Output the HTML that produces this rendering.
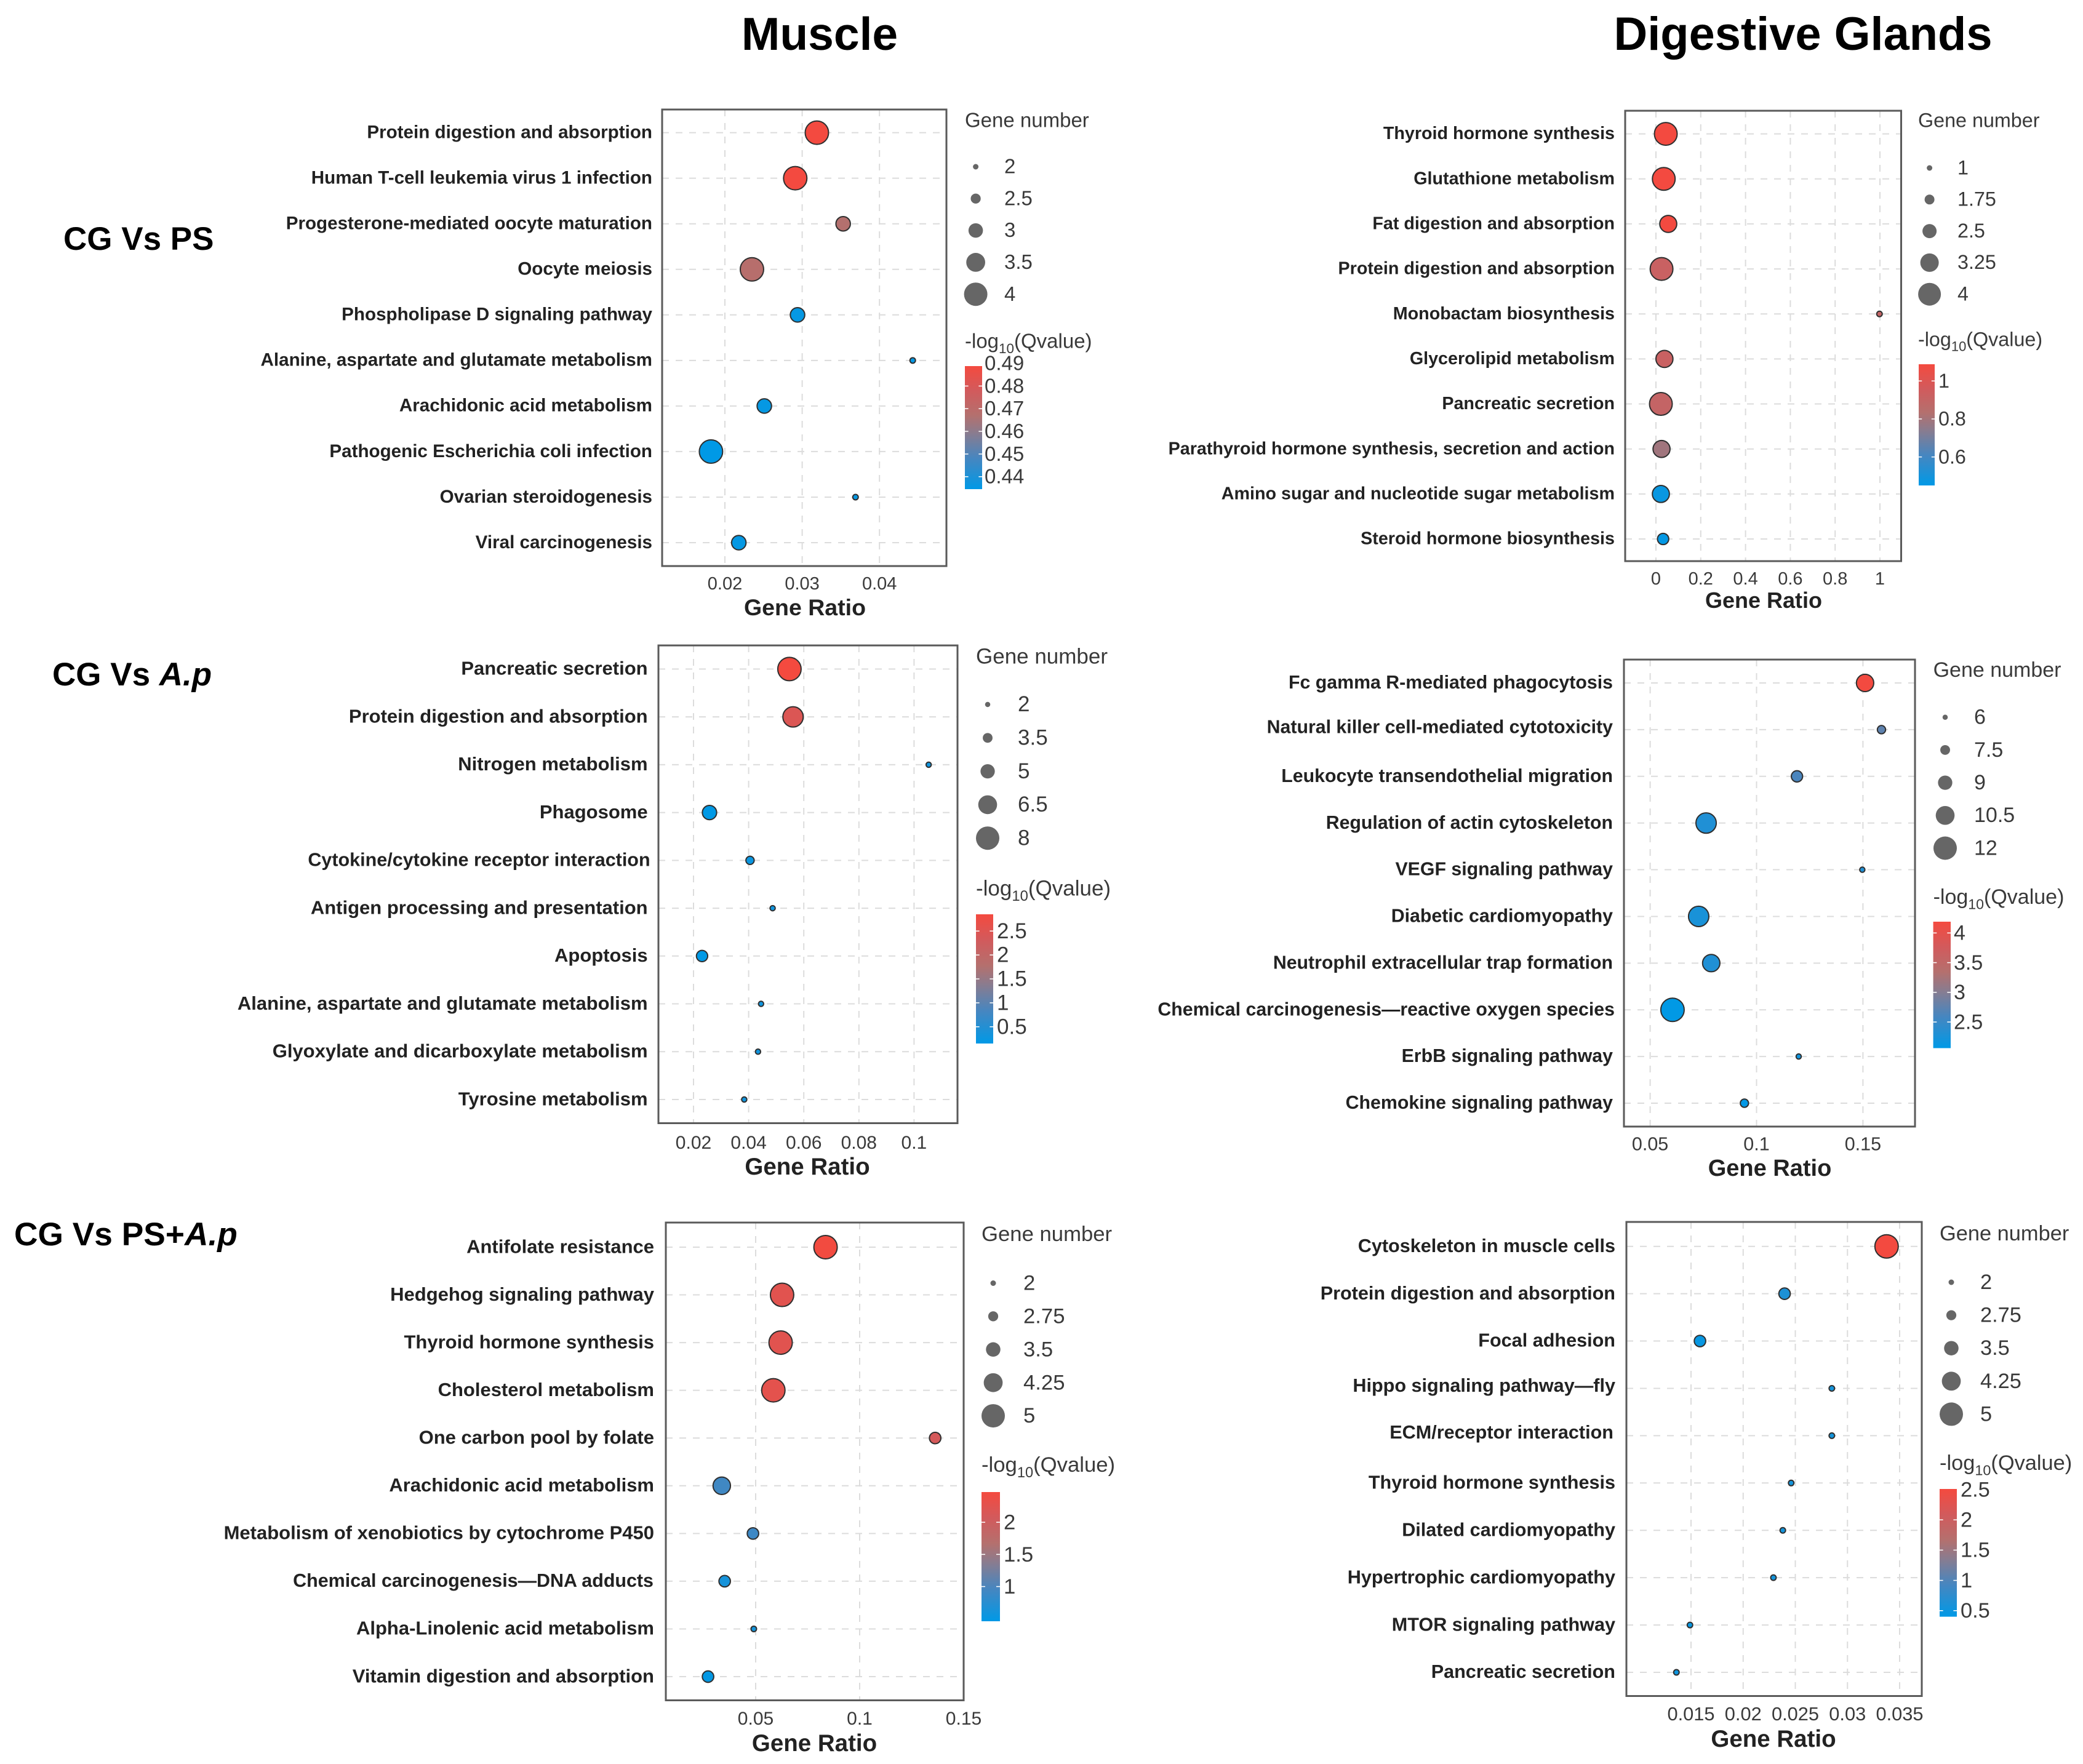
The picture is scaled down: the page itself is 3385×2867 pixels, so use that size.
<!DOCTYPE html>
<html lang="en">
<head>
<meta charset="utf-8">
<title>KEGG enrichment bubble charts: Muscle and Digestive Glands</title>
<style>
html,body{margin:0;padding:0;background:#fff;}
svg{display:block;font-family:"Liberation Sans",Arial,sans-serif;}
</style>
</head>
<body>
<svg id="figure" xmlns="http://www.w3.org/2000/svg" width="3385" height="2867" viewBox="0 0 3385 2867">
  <defs>
    <linearGradient id="q-gradient" x1="0" y1="1" x2="0" y2="0">
      <stop offset="0" stop-color="#0099e6"/>
      <stop offset="0.25" stop-color="#4686c0"/>
      <stop offset="0.45" stop-color="#887c90"/>
      <stop offset="0.6" stop-color="#b4706e"/>
      <stop offset="0.8" stop-color="#d25a5c"/>
      <stop offset="1" stop-color="#f44a3f"/>
    </linearGradient>
  </defs>
  <rect x="0" y="0" width="3385" height="2867" fill="#ffffff"/>
  <text x="1332" y="81" font-size="75" font-weight="700" text-anchor="middle" fill="#000">Muscle</text>
  <text x="2930" y="81" font-size="75.8" font-weight="700" text-anchor="middle" fill="#000">Digestive Glands</text>
  <text x="103" y="406" font-size="53" font-weight="700" fill="#000">CG Vs PS</text>
  <text x="85" y="1114" font-size="53" font-weight="700" fill="#000">CG Vs <tspan font-style="italic">A.p</tspan></text>
  <text x="23" y="2024" font-size="53.3" font-weight="700" fill="#000">CG Vs PS+<tspan font-style="italic">A.p</tspan></text>
</svg>
<script>
/* ---------- Muscle, CG Vs PS ---------- */
const musclePsPathways = ["Protein digestion and absorption","Human T-cell leukemia virus 1 infection","Progesterone-mediated oocyte maturation","Oocyte meiosis","Phospholipase D signaling pathway","Alanine, aspartate and glutamate metabolism","Arachidonic acid metabolism","Pathogenic Escherichia coli infection","Ovarian steroidogenesis","Viral carcinogenesis"];
const musclePsRatio = [0.0319,0.0291,0.0353,0.0235,0.0294,0.0443,0.0251,0.0182,0.0369,0.0218];
const musclePsGenes = [4,4,3,4,3,2,3,4,2,3];
const musclePsQ = [0.4885,0.4885,0.467,0.468,0.4355,0.4355,0.4355,0.4345,0.4355,0.4355];
const musclePsXTicks = [0.02,0.03,0.04];
const musclePsSizeTicks = [2,2.5,3,3.5,4];
const musclePsColorTicks = [0.49,0.48,0.47,0.46,0.45,0.44];
const musclePsQRange = [0.4345,0.4888];

/* ---------- Digestive Glands, CG Vs PS ---------- */
const glandsPsPathways = ["Thyroid hormone synthesis","Glutathione metabolism","Fat digestion and absorption","Protein digestion and absorption","Monobactam biosynthesis","Glycerolipid metabolism","Pancreatic secretion","Parathyroid hormone synthesis, secretion and action","Amino sugar and nucleotide sugar metabolism","Steroid hormone biosynthesis"];
const glandsPsRatio = [0.044,0.035,0.055,0.025,0.998,0.038,0.022,0.025,0.022,0.032];
const glandsPsGenes = [4,4,3,4,1,3,4,3,3,2];
const glandsPsQ = [1.085,1.085,1.085,0.92,0.9,0.92,0.9,0.79,0.47,0.46];
const glandsPsXTicks = [0,0.2,0.4,0.6,0.8,1];
const glandsPsSizeTicks = [1,1.75,2.5,3.25,4];
const glandsPsColorTicks = [1,0.8,0.6];
const glandsPsQRange = [0.45,1.088];

/* ---------- Muscle, CG Vs A.p ---------- */
const muscleApPathways = ["Pancreatic secretion","Protein digestion and absorption","Nitrogen metabolism","Phagosome","Cytokine/cytokine receptor interaction","Antigen processing and presentation","Apoptosis","Alanine, aspartate and glutamate metabolism","Glyoxylate and dicarboxylate metabolism","Tyrosine metabolism"];
const muscleApRatio = [0.0548,0.0561,0.1053,0.0258,0.0405,0.0487,0.0231,0.0445,0.0434,0.0384];
const muscleApGenes = [8,7,2,5,3,2,4,2,2,2];
const muscleApQ = [2.85,2.45,0.3,0.16,0.25,0.3,0.16,0.3,0.3,0.3];
const muscleApXTicks = [0.02,0.04,0.06,0.08,0.1];
const muscleApSizeTicks = [2,3.5,5,6.5,8];
const muscleApColorTicks = [2.5,2,1.5,1,0.5];
const muscleApQRange = [0.15,2.85];

/* ---------- Digestive Glands, CG Vs A.p ---------- */
const glandsApPathways = ["Fc gamma R-mediated phagocytosis","Natural killer cell-mediated cytotoxicity","Leukocyte transendothelial migration","Regulation of actin cytoskeleton","VEGF signaling pathway","Diabetic cardiomyopathy","Neutrophil extracellular trap formation","Chemical carcinogenesis\u2014reactive oxygen species","ErbB signaling pathway","Chemokine signaling pathway"];
const glandsApRatio = [0.151,0.1587,0.119,0.0763,0.1497,0.0728,0.0787,0.0605,0.1198,0.0943];
const glandsApGenes = [10,7,8,11,6,11,10,12,6,7];
const glandsApQ = [4.18,2.75,2.62,2.3,2.3,2.25,2.3,2.07,2.2,2.08];
const glandsApXTicks = [0.05,0.1,0.15];
const glandsApSizeTicks = [6,7.5,9,10.5,12];
const glandsApColorTicks = [4,3.5,3,2.5];
const glandsApQRange = [2.06,4.19];

/* ---------- Muscle, CG Vs PS+A.p ---------- */
const musclePsApPathways = ["Antifolate resistance","Hedgehog signaling pathway","Thyroid hormone synthesis","Cholesterol metabolism","One carbon pool by folate","Arachidonic acid metabolism","Metabolism of xenobiotics by cytochrome P450","Chemical carcinogenesis\u2014DNA adducts","Alpha-Linolenic acid metabolism","Vitamin digestion and absorption"];
const musclePsApRatio = [0.0836,0.0627,0.062,0.0585,0.1363,0.0337,0.0487,0.0351,0.0491,0.0271];
const musclePsApGenes = [5,5,5,5,3,4,3,3,2,3];
const musclePsApQ = [2.45,2.25,2.25,2.28,2.1,0.92,0.9,0.62,0.6,0.48];
const musclePsApXTicks = [0.05,0.1,0.15];
const musclePsApSizeTicks = [2,2.75,3.5,4.25,5];
const musclePsApColorTicks = [2,1.5,1];
const musclePsApQRange = [0.46,2.47];

/* ---------- Digestive Glands, CG Vs PS+A.p ---------- */
const glandsPsApPathways = ["Cytoskeleton in muscle cells","Protein digestion and absorption","Focal adhesion","Hippo signaling pathway\u2014fly","ECM/receptor interaction","Thyroid hormone synthesis","Dilated cardiomyopathy","Hypertrophic cardiomyopathy","MTOR signaling pathway","Pancreatic secretion"];
const glandsPsApRatio = [0.03375,0.02397,0.01586,0.0285,0.0285,0.0246,0.0238,0.0229,0.0149,0.0136];
const glandsPsApGenes = [5,3,3,2,2,2,2,2,2,2];
const glandsPsApQ = [2.5,0.62,0.45,0.55,0.55,0.55,0.55,0.55,0.45,0.5];
const glandsPsApXTicks = [0.015,0.02,0.025,0.03,0.035];
const glandsPsApSizeTicks = [2,2.75,3.5,4.25,5];
const glandsPsApColorTicks = [2.5,2,1.5,1,0.5];
const glandsPsApQRange = [0.4,2.51];

/* ---------- Colour ramp used by marks ---------- */
const rampOffsets = [0,0.25,0.45,0.6,0.8,1];
const rampColors = [[0,153,230],[70,134,192],[136,124,144],[180,112,110],[210,90,92],[244,74,63]];

const SVGNS = "http://www.w3.org/2000/svg";
const figure = document.getElementById("figure");

/* Frame geometry per panel lives here, apart from the data arrays. */
const panelSpecs = [
 {key:"muscle-ps",pathways:musclePsPathways,ratio:musclePsRatio,genes:musclePsGenes,q:musclePsQ,xTicks:musclePsXTicks,sizeTicks:musclePsSizeTicks,colorTicks:musclePsColorTicks,qRange:musclePsQRange,
  left:1076,right:1538,top:178,bottom:920,firstY:215.6,lastY:882,xAt:[0.02,1178],xPerUnit:12560,
  labelX:1060,labelFont:29.6,tickFont:29,tickBase:958,titleX:1308,titleBase:1000,titleFont:37.5,
  legX:1568,legFont:33,legTitleY:195,sizeY:271,sizeStep:51.8,sizeCx:1585.6,sizeLabelX:1632,dMin:9,dMax:38,
  qTitleY:554,barLeft:1568,barRight:1596,barTop:595,barBottom:795,barLabelX:1600,nudge:{},shiftY:{},squeeze:{}},
 {key:"glands-ps",pathways:glandsPsPathways,ratio:glandsPsRatio,genes:glandsPsGenes,q:glandsPsQ,xTicks:glandsPsXTicks,sizeTicks:glandsPsSizeTicks,colorTicks:glandsPsColorTicks,qRange:glandsPsQRange,
  left:2641,right:3089.5,top:180,bottom:912,firstY:217.6,lastY:876,xAt:[0,2691],xPerUnit:364,
  labelX:2624,labelFont:28.7,tickFont:29,tickBase:950,titleX:2866,titleBase:988,titleFont:36,
  legX:3117,legFont:32.3,legTitleY:195,sizeY:273,sizeStep:51.3,sizeCx:3135.6,sizeLabelX:3181,dMin:9,dMax:37,
  qTitleY:551,barLeft:3118,barRight:3144,barTop:592,barBottom:789,barLabelX:3150,nudge:{},shiftY:{},squeeze:{}},
 {key:"muscle-ap",pathways:muscleApPathways,ratio:muscleApRatio,genes:muscleApGenes,q:muscleApQ,xTicks:muscleApXTicks,sizeTicks:muscleApSizeTicks,colorTicks:muscleApColorTicks,qRange:muscleApQRange,
  left:1070,right:1556,top:1049,bottom:1825.5,firstY:1087.4,lastY:1787,xAt:[0.02,1127],xPerUnit:4480,
  labelX:1052.6,labelFont:31,tickFont:30,tickBase:1867,titleX:1312,titleBase:1909,titleFont:38.5,
  legX:1586,legFont:35,legTitleY:1066,sizeY:1145,sizeStep:54.3,sizeCx:1605,sizeLabelX:1654,dMin:8.5,dMax:38,
  qTitleY:1443,barLeft:1586,barRight:1614,barTop:1486,barBottom:1696,barLabelX:1620,nudge:{4:4},shiftY:{},squeeze:{4:0.985}},
 {key:"glands-ap",pathways:glandsApPathways,ratio:glandsApRatio,genes:glandsApGenes,q:glandsApQ,xTicks:glandsApXTicks,sizeTicks:glandsApSizeTicks,colorTicks:glandsApColorTicks,qRange:glandsApQRange,
  left:2639,right:3112,top:1072,bottom:1831,firstY:1110,lastY:1793,xAt:[0.05,2681.6],xPerUnit:3458,
  labelX:2621,labelFont:30.3,tickFont:30.5,tickBase:1869.5,titleX:2876,titleBase:1911,titleFont:38,
  legX:3141.6,legFont:34,legTitleY:1088,sizeY:1165.7,sizeStep:53.2,sizeCx:3161,sizeLabelX:3208,dMin:8.5,dMax:38,
  qTitleY:1457,barLeft:3141.6,barRight:3170,barTop:1498,barBottom:1703.5,barLabelX:3175,nudge:{7:3},shiftY:{1:-3.5},squeeze:{}},
 {key:"muscle-ps-ap",pathways:musclePsApPathways,ratio:musclePsApRatio,genes:musclePsApGenes,q:musclePsApQ,xTicks:musclePsApXTicks,sizeTicks:musclePsApSizeTicks,colorTicks:musclePsApColorTicks,qRange:musclePsApQRange,
  left:1082,right:1566,top:1987,bottom:2763.5,firstY:2027,lastY:2725,xAt:[0.05,1228],xPerUnit:3380,
  labelX:1063,labelFont:31,tickFont:30,tickBase:2803,titleX:1323.5,titleBase:2846,titleFont:38.5,
  legX:1595,legFont:34.7,legTitleY:2005,sizeY:2085.5,sizeStep:53.9,sizeCx:1614,sizeLabelX:1663,dMin:9,dMax:38,
  qTitleY:2380,barLeft:1595,barRight:1625,barTop:2425,barBottom:2635,barLabelX:1631,nudge:{7:-1},shiftY:{},squeeze:{7:0.982}},
 {key:"glands-ps-ap",pathways:glandsPsApPathways,ratio:glandsPsApRatio,genes:glandsPsApGenes,q:glandsPsApQ,xTicks:glandsPsApXTicks,sizeTicks:glandsPsApSizeTicks,colorTicks:glandsPsApColorTicks,qRange:glandsPsApQRange,
  left:2643,right:3123,top:1986,bottom:2756.5,firstY:2025.7,lastY:2718,xAt:[0.015,2748],xPerUnit:16950,
  labelX:2625,labelFont:30.6,tickFont:30.8,tickBase:2796,titleX:2882,titleBase:2839,titleFont:38.5,
  legX:3152,legFont:34.4,legTitleY:2004,sizeY:2084,sizeStep:53.6,sizeCx:3171,sizeLabelX:3218,dMin:9,dMax:38,
  qTitleY:2377,barLeft:3152,barRight:3180,barTop:2420,barBottom:2627.6,barLabelX:3186,nudge:{4:-3},shiftY:{3:-3.5,4:-4.5},squeeze:{}}
];

function make(tag, attrs, parent, text) {
  const node = document.createElementNS(SVGNS, tag);
  for (const k in attrs) node.setAttribute(k, attrs[k]);
  if (text !== undefined) node.textContent = text;
  parent.appendChild(node);
  return node;
}

function rampColor(t) {
  const c = Math.max(0, Math.min(1, t));
  for (let i = 1; i < rampOffsets.length; i++) {
    if (c <= rampOffsets[i]) {
      const f = (c - rampOffsets[i-1]) / (rampOffsets[i] - rampOffsets[i-1]);
      const rgb = rampColors[i-1].map((v, j) => Math.round(v + (rampColors[i][j] - v) * f));
      return "rgb(" + rgb.join(",") + ")";
    }
  }
  return "rgb(" + rampColors[rampColors.length-1].join(",") + ")";
}

panelSpecs.forEach(function (p) {
  const xScale = v => p.xAt[1] + (v - p.xAt[0]) * p.xPerUnit;
  const yScale = i => p.firstY + i * (p.lastY - p.firstY) / (p.pathways.length - 1);
  const sMin = p.sizeTicks[0];
  const sMax = p.sizeTicks[p.sizeTicks.length - 1];
  const diameter = g => p.dMin + (g - sMin) / (sMax - sMin) * (p.dMax - p.dMin);
  const qNorm = q => (q - p.qRange[0]) / (p.qRange[1] - p.qRange[0]);
  const barY = v => p.barBottom - qNorm(v) * (p.barBottom - p.barTop);

  const group = make("g", {}, figure);
  
  

  /* grid */
  p.xTicks.forEach(function (t) {
    const line = make("line", {x1:xScale(t), x2:xScale(t), y1:p.top, y2:p.bottom, stroke:"#dcdcdc", "stroke-width":2, "stroke-dasharray":"11 11"}, group);
    
    
  });
  p.pathways.forEach(function (name, i) {
    const line = make("line", {x1:p.left, x2:p.right, y1:yScale(i), y2:yScale(i), stroke:"#dcdcdc", "stroke-width":2, "stroke-dasharray":"11 11"}, group);
    
    
  });

  /* frame */
  const frame = make("rect", {x:p.left, y:p.top, width:p.right - p.left, height:p.bottom - p.top, fill:"none", stroke:"#5a5a5a", "stroke-width":3}, group);
  
  

  /* category labels */
  p.pathways.forEach(function (name, i) {
    const fs = p.labelFont * (p.squeeze[i] || 1);
    const label = make("text", {x:p.labelX + (p.nudge[i] || 0), y:yScale(i) + p.labelFont * 0.3 + (p.shiftY[i] || 0), "text-anchor":"end", "font-size":fs, "font-weight":700, fill:"#222"}, group, name);
    
    
  });

  /* x tick labels */
  p.xTicks.forEach(function (t) {
    const label = make("text", {x:xScale(t), y:p.tickBase, "text-anchor":"middle", "font-size":p.tickFont, fill:"#3a3a3a"}, group, String(t));
    
    
  });

  /* x axis title */
  const xTitle = make("text", {x:p.titleX, y:p.titleBase, "text-anchor":"middle", "font-size":p.titleFont, "font-weight":700, fill:"#222"}, group, "Gene Ratio");
  
  

  /* points */
  p.ratio.forEach(function (r, i) {
    const d = diameter(p.genes[i]);
    const dot = make("circle", {cx:xScale(r), cy:yScale(i), r:d / 2, fill:rampColor(qNorm(p.q[i])), stroke:"#2f2f2f", "stroke-width":2}, group);
    
    
  });

  /* size legend */
  const sizeTitle = make("text", {x:p.legX, y:p.legTitleY + p.legFont * 0.35, "font-size":p.legFont, fill:"#3a3a3a"}, group, "Gene number");
  
  
  p.sizeTicks.forEach(function (s, i) {
    const cy = p.sizeY + i * p.sizeStep;
    const key = make("circle", {cx:p.sizeCx, cy:cy, r:diameter(s) / 2, fill:"#666666"}, group);
    
    
    const label = make("text", {x:p.sizeLabelX, y:cy + p.legFont * 0.32, "font-size":p.legFont, fill:"#3a3a3a"}, group, String(s));
    
    
  });

  /* colour legend */
  const qTitle = make("text", {x:p.legX, y:p.qTitleY + p.legFont * 0.35, "font-size":p.legFont, fill:"#3a3a3a"}, group);
  
  
  make("tspan", {}, qTitle, "-log");
  make("tspan", {dy:p.legFont * 0.25, "font-size":p.legFont * 0.68}, qTitle, "10");
  make("tspan", {dy:-p.legFont * 0.25}, qTitle, "(Qvalue)");

  const bar = make("rect", {x:p.barLeft, y:p.barTop, width:p.barRight - p.barLeft, height:p.barBottom - p.barTop, fill:"url(#q-gradient)"}, group);
  
  

  p.colorTicks.forEach(function (v) {
    const y = barY(v);
    const w = p.barRight - p.barLeft;
    if (y > p.barTop + 2) {
      const tickL = make("line", {x1:p.barLeft, x2:p.barLeft + w / 5, y1:y, y2:y, stroke:"#ffffff", "stroke-width":1.5}, group);
      
      
      const tickR = make("line", {x1:p.barRight - w / 5, x2:p.barRight, y1:y, y2:y, stroke:"#ffffff", "stroke-width":1.5}, group);
      
      
    }
    const label = make("text", {x:p.barLabelX, y:y + p.legFont * 0.33, "font-size":p.legFont, fill:"#3a3a3a"}, group, String(v));
    
    
  });
});
</script>
</body>
</html>
